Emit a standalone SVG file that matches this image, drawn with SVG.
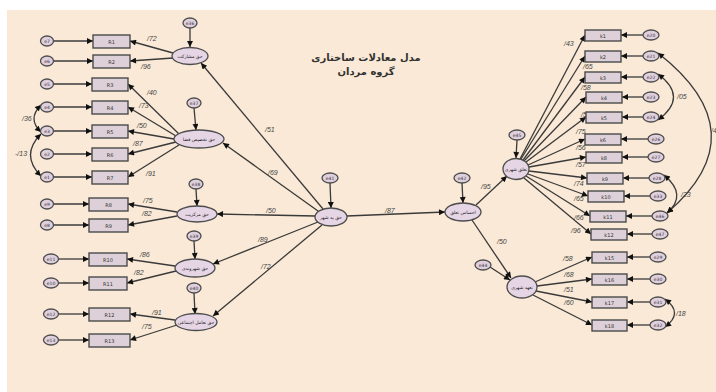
<svg xmlns="http://www.w3.org/2000/svg" width="716" height="392" viewBox="0 0 716 392">
<style>
.bg{fill:#F9E9D6}
.box{fill:#DED0D8;stroke:#4a4a4a;stroke-width:1.4}
.lat{fill:#E6D5E5;stroke:#4d4d4d;stroke-width:1.3}
.err{fill:#E0D0DE;stroke:#4d4d4d;stroke-width:1.3}
.ln{stroke:#3a3a3a;stroke-width:1.3;fill:none;marker-end:url(#ah)}
.cv{stroke:#3a3a3a;stroke-width:1.3;fill:none;marker-start:url(#ah);marker-end:url(#ah)}
.bt{font-family:"DejaVu Sans",sans-serif;font-size:5px;fill:#333;text-anchor:middle;dominant-baseline:central}
.et{font-family:"DejaVu Sans",sans-serif;font-size:4.5px;fill:#333;text-anchor:middle;dominant-baseline:central}
.lt{font-family:"DejaVu Sans",sans-serif;font-size:4.6px;fill:#222;text-anchor:middle;dominant-baseline:central}
.pl{font-family:"Liberation Sans",sans-serif;font-size:7px;font-style:italic;fill:#444}
.ti{font-family:"DejaVu Sans",sans-serif;font-size:10px;font-weight:bold;fill:#333;text-anchor:middle}
</style>
<defs>
<marker id="ah" viewBox="0 0 10 10" refX="10" refY="5" markerWidth="8" markerHeight="6" markerUnits="userSpaceOnUse" orient="auto-start-reverse">
<path d="M0,0 L10,5 L0,10 z" fill="#111"/>
</marker>
</defs>
<rect x="0" y="0" width="716" height="392" fill="#ffffff"/>
<rect class="bg" x="7" y="10" width="709" height="382"/>
<g id="title">
<text class="ti" x="366" y="61">مدل معادلات ساختاری</text>
<text class="ti" x="366" y="75">گروه مردان</text>
</g>
<g id="connectors">
<line class="ln" x1="54" y1="41" x2="93" y2="41"/>
<line class="ln" x1="54" y1="61" x2="93" y2="61"/>
<line class="ln" x1="54" y1="84" x2="92" y2="84"/>
<line class="ln" x1="54" y1="107" x2="92" y2="107"/>
<line class="ln" x1="54" y1="131" x2="92" y2="131"/>
<line class="ln" x1="54" y1="154" x2="92" y2="154"/>
<line class="ln" x1="54" y1="177" x2="92" y2="177"/>
<line class="ln" x1="54" y1="204" x2="89" y2="204"/>
<line class="ln" x1="54" y1="225" x2="89" y2="225"/>
<line class="ln" x1="59" y1="259" x2="89" y2="259"/>
<line class="ln" x1="59" y1="283" x2="89" y2="283"/>
<line class="ln" x1="59" y1="314" x2="89" y2="314"/>
<line class="ln" x1="59" y1="340" x2="89" y2="340"/>
<line class="ln" x1="173" y1="53" x2="130" y2="41"/>
<line class="ln" x1="173" y1="58" x2="130" y2="61"/>
<line class="ln" x1="179" y1="134" x2="128" y2="84"/>
<line class="ln" x1="176" y1="136" x2="128" y2="107"/>
<line class="ln" x1="174" y1="139" x2="128" y2="131"/>
<line class="ln" x1="176" y1="142" x2="128" y2="154"/>
<line class="ln" x1="179" y1="145" x2="128" y2="177"/>
<line class="ln" x1="177" y1="212" x2="128" y2="204"/>
<line class="ln" x1="177" y1="216" x2="128" y2="225"/>
<line class="ln" x1="175" y1="266" x2="127" y2="259"/>
<line class="ln" x1="176" y1="271" x2="127" y2="283"/>
<line class="ln" x1="175" y1="320" x2="130" y2="314"/>
<line class="ln" x1="177" y1="325" x2="130" y2="340"/>
<line class="ln" x1="190" y1="28" x2="190" y2="47"/>
<line class="ln" x1="194" y1="108" x2="196" y2="130"/>
<line class="ln" x1="196" y1="189" x2="197" y2="206"/>
<line class="ln" x1="194" y1="241" x2="195" y2="259"/>
<line class="ln" x1="194" y1="293" x2="195" y2="314"/>
<line class="ln" x1="323" y1="209" x2="201" y2="63"/>
<line class="ln" x1="318" y1="211" x2="223" y2="143"/>
<line class="ln" x1="315" y1="216" x2="217" y2="214"/>
<line class="ln" x1="318" y1="222" x2="213" y2="264"/>
<line class="ln" x1="322" y1="225" x2="213" y2="316"/>
<line class="ln" x1="330" y1="183" x2="331" y2="208"/>
<line class="ln" x1="347" y1="216" x2="445" y2="212"/>
<line class="ln" x1="462" y1="183" x2="463" y2="203"/>
<line class="ln" x1="476" y1="205" x2="507" y2="176"/>
<line class="ln" x1="472" y1="220" x2="511" y2="278"/>
<line class="ln" x1="490" y1="267" x2="510" y2="280"/>
<line class="ln" x1="517" y1="140" x2="516" y2="158"/>
<line class="ln" x1="520" y1="159" x2="585" y2="35"/>
<line class="ln" x1="521" y1="159" x2="585" y2="56"/>
<line class="ln" x1="523" y1="160" x2="585" y2="77"/>
<line class="ln" x1="524" y1="161" x2="586" y2="97"/>
<line class="ln" x1="526" y1="162" x2="586" y2="117"/>
<line class="ln" x1="528" y1="165" x2="585" y2="139"/>
<line class="ln" x1="529" y1="167" x2="586" y2="157"/>
<line class="ln" x1="529" y1="171" x2="587" y2="178"/>
<line class="ln" x1="528" y1="174" x2="588" y2="196"/>
<line class="ln" x1="526" y1="176" x2="590" y2="216"/>
<line class="ln" x1="524" y1="178" x2="591" y2="234"/>
<line class="ln" x1="535" y1="282" x2="592" y2="257"/>
<line class="ln" x1="537" y1="286" x2="592" y2="279"/>
<line class="ln" x1="536" y1="291" x2="592" y2="302"/>
<line class="ln" x1="533" y1="295" x2="592" y2="325"/>
<line class="ln" x1="643" y1="35" x2="621" y2="35"/>
<line class="ln" x1="643" y1="56" x2="621" y2="56"/>
<line class="ln" x1="643" y1="77" x2="621" y2="77"/>
<line class="ln" x1="643" y1="97" x2="622" y2="97"/>
<line class="ln" x1="643" y1="117" x2="622" y2="117"/>
<line class="ln" x1="648" y1="139" x2="621" y2="139"/>
<line class="ln" x1="648" y1="157" x2="622" y2="157"/>
<line class="ln" x1="649" y1="178" x2="623" y2="178"/>
<line class="ln" x1="650" y1="196" x2="624" y2="196"/>
<line class="ln" x1="652" y1="216" x2="626" y2="216"/>
<line class="ln" x1="652" y1="234" x2="627" y2="234"/>
<line class="ln" x1="650" y1="257" x2="627" y2="257"/>
<line class="ln" x1="650" y1="279" x2="627" y2="279"/>
<line class="ln" x1="650" y1="302" x2="627" y2="302"/>
<line class="ln" x1="650" y1="325" x2="627" y2="325"/>
<path class="cv" d="M41,105 Q27,119 41,132"/>
<path class="cv" d="M41,134 Q20,155 41,176"/>
<path class="cv" d="M658,53 Q760,133 667,213"/>
<path class="cv" d="M658,74 Q689,97 658,120"/>
<path class="cv" d="M664,175 Q688,195 667,213"/>
<path class="cv" d="M665,299 Q684,313 665,327"/>
</g>
<g id="path-labels">
<text class="pl" x="147" y="41">/72</text>
<text class="pl" x="141" y="69">/96</text>
<text class="pl" x="147" y="95">/40</text>
<text class="pl" x="139" y="108">/73</text>
<text class="pl" x="137" y="128">/50</text>
<text class="pl" x="133" y="146">/87</text>
<text class="pl" x="146" y="176">/91</text>
<text class="pl" x="22" y="121">/36</text>
<text class="pl" x="15" y="156">-/13</text>
<text class="pl" x="143" y="203">/75</text>
<text class="pl" x="142" y="216">/82</text>
<text class="pl" x="140" y="257">/86</text>
<text class="pl" x="134" y="275">/82</text>
<text class="pl" x="152" y="315">/91</text>
<text class="pl" x="142" y="329">/75</text>
<text class="pl" x="265" y="132">/51</text>
<text class="pl" x="268" y="175">/69</text>
<text class="pl" x="266" y="213">/50</text>
<text class="pl" x="258" y="242">/89</text>
<text class="pl" x="261" y="269">/72</text>
<text class="pl" x="385" y="213">/87</text>
<text class="pl" x="481" y="189">/95</text>
<text class="pl" x="497" y="244">/50</text>
<text class="pl" x="564" y="46">/43</text>
<text class="pl" x="583" y="69">/65</text>
<text class="pl" x="581" y="90">/58</text>
<text class="pl" x="581" y="117">/52</text>
<text class="pl" x="576" y="134">/75</text>
<text class="pl" x="576" y="150">/56</text>
<text class="pl" x="576" y="167">/57</text>
<text class="pl" x="574" y="186">/74</text>
<text class="pl" x="574" y="201">/65</text>
<text class="pl" x="574" y="220">/66</text>
<text class="pl" x="571" y="233">/96</text>
<text class="pl" x="677" y="99">/05</text>
<text class="pl" x="711" y="133">/4</text>
<text class="pl" x="681" y="197">/23</text>
<text class="pl" x="563" y="261">/58</text>
<text class="pl" x="564" y="277">/68</text>
<text class="pl" x="564" y="292">/51</text>
<text class="pl" x="564" y="305">/60</text>
<text class="pl" x="676" y="316">/18</text>
</g>
<g id="left-errors">
<ellipse class="err" cx="47" cy="41" rx="6.5" ry="5"/><text class="et" x="47" y="41">e7</text>
<ellipse class="err" cx="47" cy="61" rx="6.5" ry="5"/><text class="et" x="47" y="61">e6</text>
<ellipse class="err" cx="47" cy="84" rx="6.5" ry="5"/><text class="et" x="47" y="84">e5</text>
<ellipse class="err" cx="47" cy="107" rx="6.5" ry="5"/><text class="et" x="47" y="107">e4</text>
<ellipse class="err" cx="47" cy="131" rx="6.5" ry="5"/><text class="et" x="47" y="131">e3</text>
<ellipse class="err" cx="47" cy="154" rx="6.5" ry="5"/><text class="et" x="47" y="154">e2</text>
<ellipse class="err" cx="47" cy="177" rx="6.5" ry="5"/><text class="et" x="47" y="177">e1</text>
<ellipse class="err" cx="47" cy="204" rx="6.5" ry="5"/><text class="et" x="47" y="204">e9</text>
<ellipse class="err" cx="47" cy="225" rx="6.5" ry="5"/><text class="et" x="47" y="225">e8</text>
<ellipse class="err" cx="51" cy="259" rx="7.5" ry="5"/><text class="et" x="51" y="259">e11</text>
<ellipse class="err" cx="51" cy="283" rx="7.5" ry="5"/><text class="et" x="51" y="283">e10</text>
<ellipse class="err" cx="51" cy="314" rx="7.5" ry="5"/><text class="et" x="51" y="314">e12</text>
<ellipse class="err" cx="51" cy="340" rx="7.5" ry="5"/><text class="et" x="51" y="340">e13</text>
</g>
<g id="left-indicators">
<rect class="box" x="93" y="35" width="37" height="13"/><text class="bt" x="111.5" y="41.5">R1</text>
<rect class="box" x="93" y="55" width="37" height="13"/><text class="bt" x="111.5" y="61.5">R2</text>
<rect class="box" x="92" y="78" width="36" height="13"/><text class="bt" x="110" y="84.5">R3</text>
<rect class="box" x="92" y="101" width="36" height="13"/><text class="bt" x="110" y="107.5">R4</text>
<rect class="box" x="92" y="125" width="36" height="13"/><text class="bt" x="110" y="131.5">R5</text>
<rect class="box" x="92" y="148" width="36" height="13"/><text class="bt" x="110" y="154.5">R6</text>
<rect class="box" x="92" y="171" width="36" height="13"/><text class="bt" x="110" y="177.5">R7</text>
<rect class="box" x="89" y="198" width="39" height="13"/><text class="bt" x="108.5" y="204.5">R8</text>
<rect class="box" x="89" y="219" width="39" height="13"/><text class="bt" x="108.5" y="225.5">R9</text>
<rect class="box" x="89" y="253" width="38" height="13"/><text class="bt" x="108" y="259.5">R10</text>
<rect class="box" x="89" y="277" width="38" height="13"/><text class="bt" x="108" y="283.5">R11</text>
<rect class="box" x="89" y="308" width="41" height="13"/><text class="bt" x="109.5" y="314.5">R12</text>
<rect class="box" x="89" y="334" width="41" height="13"/><text class="bt" x="109.5" y="340.5">R13</text>
</g>
<g id="left-factors">
<g id="f-participation"><ellipse class="lat" cx="190" cy="56" rx="18" ry="8.5"/><text class="lt" x="190" y="56">حق مشارکت</text></g>
<g id="f-space"><ellipse class="lat" cx="199" cy="139" rx="25" ry="9"/><text class="lt" x="199" y="139">حق تخصیص فضا</text></g>
<g id="f-centrality"><ellipse class="lat" cx="197" cy="214" rx="20" ry="8"/><text class="lt" x="197" y="214">حق مرکزیت</text></g>
<g id="f-citizenship"><ellipse class="lat" cx="195" cy="268" rx="20" ry="9"/><text class="lt" x="195" y="268">حق شهروندی</text></g>
<g id="f-interaction"><ellipse class="lat" cx="196" cy="322" rx="21" ry="8.5"/><text class="lt" x="196" y="322">حق تعامل اجتماعی</text></g>
</g>
<g id="left-disturbances">
<ellipse class="err" cx="190" cy="23" rx="7" ry="5"/><text class="et" x="190" y="23">e36</text>
<ellipse class="err" cx="194" cy="103" rx="7" ry="5"/><text class="et" x="194" y="103">e37</text>
<ellipse class="err" cx="196" cy="184" rx="7" ry="5"/><text class="et" x="196" y="184">e38</text>
<ellipse class="err" cx="194" cy="236" rx="7" ry="5"/><text class="et" x="194" y="236">e39</text>
<ellipse class="err" cx="194" cy="288" rx="7" ry="5"/><text class="et" x="194" y="288">e40</text>
</g>
<g id="n-right-to-city"><ellipse class="lat" cx="331" cy="217" rx="16" ry="9"/><text class="lt" x="331" y="217">حق به شهر</text>
<ellipse class="err" cx="330" cy="178" rx="8" ry="5"/><text class="et" x="330" y="178">e41</text></g>
<g id="n-belonging"><ellipse class="lat" cx="463" cy="212" rx="18" ry="9"/><text class="lt" x="463" y="212">احساس تعلق</text>
<ellipse class="err" cx="462" cy="178" rx="8" ry="5"/><text class="et" x="462" y="178">e42</text></g>
<g id="n-urban-attachment"><ellipse class="lat" cx="516" cy="169" rx="13" ry="10.5"/><text class="lt" x="516" y="169">تعلق شهری</text>
<ellipse class="err" cx="517" cy="135" rx="8" ry="5"/><text class="et" x="517" y="135">e45</text></g>
<g id="n-urban-commitment"><ellipse class="lat" cx="522" cy="287" rx="15" ry="11"/><text class="lt" x="522" y="287">تعهد شهری</text>
<ellipse class="err" cx="483" cy="265" rx="8" ry="5"/><text class="et" x="483" y="265">e44</text></g>
<g id="right-indicators">
<rect class="box" x="585" y="30" width="36" height="11"/><text class="bt" x="603" y="35.5">k1</text>
<rect class="box" x="585" y="51" width="36" height="11"/><text class="bt" x="603" y="56.5">k2</text>
<rect class="box" x="585" y="72" width="36" height="11"/><text class="bt" x="603" y="77.5">k3</text>
<rect class="box" x="586" y="92" width="36" height="11"/><text class="bt" x="604" y="97.5">k4</text>
<rect class="box" x="586" y="112" width="36" height="11"/><text class="bt" x="604" y="117.5">k5</text>
<rect class="box" x="585" y="134" width="36" height="11"/><text class="bt" x="603" y="139.5">k6</text>
<rect class="box" x="586" y="152" width="36" height="11"/><text class="bt" x="604" y="157.5">k8</text>
<rect class="box" x="587" y="173" width="36" height="11"/><text class="bt" x="605" y="178.5">k9</text>
<rect class="box" x="588" y="191" width="36" height="11"/><text class="bt" x="606" y="196.5">k10</text>
<rect class="box" x="590" y="211" width="36" height="11"/><text class="bt" x="608" y="216.5">k11</text>
<rect class="box" x="591" y="229" width="36" height="11"/><text class="bt" x="609" y="234.5">k12</text>
<rect class="box" x="592" y="252" width="35" height="11"/><text class="bt" x="609.5" y="257.5">k15</text>
<rect class="box" x="592" y="274" width="35" height="11"/><text class="bt" x="609.5" y="279.5">k16</text>
<rect class="box" x="592" y="297" width="35" height="11"/><text class="bt" x="609.5" y="302.5">k17</text>
<rect class="box" x="592" y="320" width="35" height="11"/><text class="bt" x="609.5" y="325.5">k18</text>
</g>
<g id="right-errors">
<ellipse class="err" cx="651" cy="35" rx="8" ry="5"/><text class="et" x="651" y="35">e20</text>
<ellipse class="err" cx="651" cy="56" rx="8" ry="5"/><text class="et" x="651" y="56">e21</text>
<ellipse class="err" cx="651" cy="77" rx="8" ry="5"/><text class="et" x="651" y="77">e22</text>
<ellipse class="err" cx="651" cy="97" rx="8" ry="5"/><text class="et" x="651" y="97">e23</text>
<ellipse class="err" cx="651" cy="117" rx="8" ry="5"/><text class="et" x="651" y="117">e24</text>
<ellipse class="err" cx="656" cy="139" rx="8" ry="5"/><text class="et" x="656" y="139">e26</text>
<ellipse class="err" cx="656" cy="157" rx="8" ry="5"/><text class="et" x="656" y="157">e27</text>
<ellipse class="err" cx="657" cy="178" rx="8" ry="5"/><text class="et" x="657" y="178">e28</text>
<ellipse class="err" cx="658" cy="196" rx="8" ry="5"/><text class="et" x="658" y="196">e33</text>
<ellipse class="err" cx="660" cy="216" rx="8" ry="5"/><text class="et" x="660" y="216">e46</text>
<ellipse class="err" cx="660" cy="234" rx="8" ry="5"/><text class="et" x="660" y="234">e47</text>
<ellipse class="err" cx="658" cy="257" rx="8" ry="5"/><text class="et" x="658" y="257">e29</text>
<ellipse class="err" cx="658" cy="279" rx="8" ry="5"/><text class="et" x="658" y="279">e30</text>
<ellipse class="err" cx="658" cy="302" rx="8" ry="5"/><text class="et" x="658" y="302">e31</text>
<ellipse class="err" cx="658" cy="325" rx="8" ry="5"/><text class="et" x="658" y="325">e32</text>
</g>
</svg>
